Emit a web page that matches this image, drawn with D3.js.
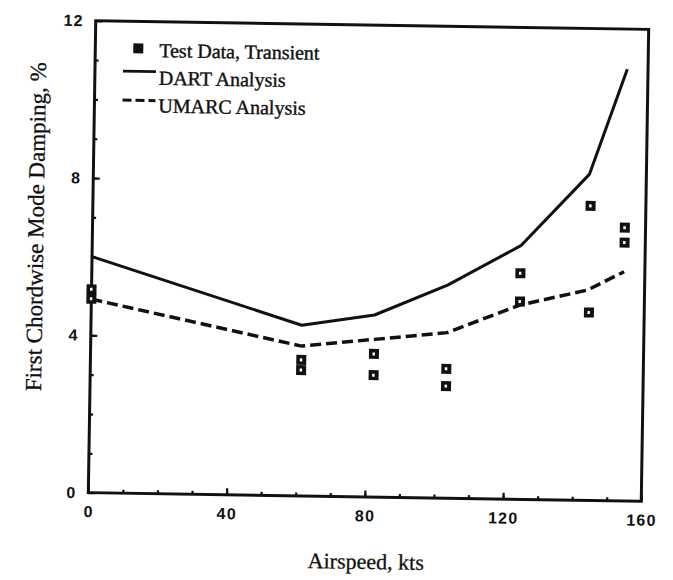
<!DOCTYPE html>
<html>
<head>
<meta charset="utf-8">
<script src="https://cdn.jsdelivr.net/npm/d3@7"></script>
<style>
body { margin: 0; background: #fff; }
.tick text { font-family: "Liberation Sans", Arial, sans-serif; font-weight: bold; font-size: 16px; letter-spacing: 1.2px; fill: #111; }
.serif { font-family: "Liberation Serif", "Times New Roman", serif; fill: #111; }
</style>
</head>
<body>
<svg id="chart" width="673" height="580"></svg>
<script>
//
// Data
//

// test points, two readings per airspeed
var testSpeed = [0, 0, 61, 61, 82, 82, 103, 103, 124, 124, 144, 144, 154, 154]
var testDamping = [5.17, 4.93, 3.46, 3.20, 3.64, 3.10, 3.29, 2.85, 5.75, 5.03, 7.49, 4.78, 6.95, 6.57]
// analysis curves
var analysisSpeed = [0, 61, 82, 103, 124, 143.5, 154]
var dartDamping = [6.0, 4.34, 4.63, 5.42, 6.45, 8.29, 10.98]
var umarcDamping = [4.92, 3.81, 4.01, 4.21, 4.94, 5.35, 5.83]
// axes
var xTicks = [0, 40, 80, 120, 160]
var yTicks = [0, 4, 8, 12]
var legendLabels = ['Test Data, Transient', 'DART Analysis', 'UMARC Analysis']

//
// Configuration
//

var W = 673, H = 580
var margin = {left: 92, top: 25, right: 28, bottom: 83}
var width = W - margin.left - margin.right
var height = H - margin.top - margin.bottom
// the scan is a little tilted
var tilt = 0.9
var ink = '#111'
var dashes = '11,5'

//
// Scales
//

var x = d3.scaleLinear().domain([0, 160]).range([0, width])
var y = d3.scaleLinear().domain([0, 12]).range([height, 0])

var svg = d3.select('#chart')
svg.append('rect').attr('width', W).attr('height', H).attr('fill', '#fff')

var page = svg.append('g')
    .attr('transform', 'rotate(' + tilt + ',' + (margin.left + width / 2) + ',' + (margin.top + height / 2) + ')')

var g = page.append('g')
    .attr('transform', 'translate(' + margin.left + ',' + margin.top + ')')

//
// Axes
//

function styleAxis(sel, w) {
    sel.select('.domain').remove()
    sel.selectAll('.tick line').attr('stroke', ink).attr('stroke-width', w)
}

g.append('g')
    .attr('transform', 'translate(0,' + height + ')')
    .call(d3.axisBottom(x).tickValues(d3.range(10, 160, 10)).tickSize(-3.5).tickFormat(''))
    .call(styleAxis, 2.2)

g.append('g')
    .attr('transform', 'translate(0,' + height + ')')
    .call(d3.axisBottom(x).tickValues(xTicks).tickSizeInner(-6.5).tickSizeOuter(0).tickPadding(13))
    .call(styleAxis, 2.2)

g.append('g')
    .call(d3.axisLeft(y).tickValues(d3.range(1, 12, 1)).tickSize(-3.5).tickFormat(''))
    .call(styleAxis, 2.2)

g.append('g')
    .call(d3.axisLeft(y).tickValues(yTicks).tickSizeInner(-6.5).tickSizeOuter(0).tickPadding(12))
    .call(styleAxis, 2.2)

// frame
g.append('rect')
    .attr('width', width).attr('height', height)
    .attr('fill', 'none').attr('stroke', ink).attr('stroke-width', 3)

//
// Curves
//

var line = d3.line()
    .x(function(d, i) { return x(analysisSpeed[i]) })
    .y(function(d) { return y(d) })

g.append('path')
    .attr('d', line(dartDamping))
    .attr('fill', 'none').attr('stroke', ink).attr('stroke-width', 3)
    .attr('stroke-linejoin', 'round')

g.append('path')
    .attr('d', line(umarcDamping))
    .attr('fill', 'none').attr('stroke', ink).attr('stroke-width', 3.5)
    .attr('stroke-dasharray', dashes)

//
// Test points
//

var pts = g.selectAll('.pt')
    .data(testDamping)
    .enter().append('g')
    .attr('class', 'pt')
    .attr('transform', function(d, i) { return 'translate(' + x(testSpeed[i]) + ',' + y(d) + ')' })

pts.append('rect')
    .attr('x', -5).attr('y', -5).attr('width', 10).attr('height', 10)
    .attr('fill', ink)
pts.append('rect')
    .attr('x', -1.5).attr('y', -1.5).attr('width', 2.5).attr('height', 3)
    .attr('fill', '#fff')

//
// Legend
//

var legend = g.append('g')

legend.append('rect')
    .attr('x', 38).attr('y', 22).attr('width', 10).attr('height', 10)
    .attr('fill', ink)
legend.append('line')
    .attr('x1', 28).attr('x2', 61).attr('y1', 50).attr('y2', 50)
    .attr('stroke', ink).attr('stroke-width', 2.8)
legend.append('line')
    .attr('x1', 28).attr('x2', 61).attr('y1', 79).attr('y2', 79)
    .attr('stroke', ink).attr('stroke-width', 3)
    .attr('stroke-dasharray', '9,4')

legend.selectAll('.leg')
    .data(legendLabels)
    .enter().append('text')
    .attr('class', 'serif')
    .attr('x', 64)
    .attr('y', function(d, i) { return 35.5 + i * 27.7 })
    .attr('font-size', 20)
    .attr('stroke', ink).attr('stroke-width', 0.4)
    .text(function(d) { return d })

//
// Axis titles
//

page.append('text')
    .attr('class', 'serif')
    .attr('transform', 'translate(43,' + 232 + ') rotate(-90)')
    .attr('text-anchor', 'middle')
    .attr('font-size', 23)
    .attr('stroke', ink).attr('stroke-width', 0.3)
    .text('First Chordwise Mode Damping, %')

page.append('text')
    .attr('class', 'serif')
    .attr('x', margin.left + width / 2 + 2)
    .attr('y', 569)
    .attr('text-anchor', 'middle')
    .attr('font-size', 22)
    .attr('stroke', ink).attr('stroke-width', 0.3)
    .text('Airspeed, kts')
</script>
</body>
</html>
